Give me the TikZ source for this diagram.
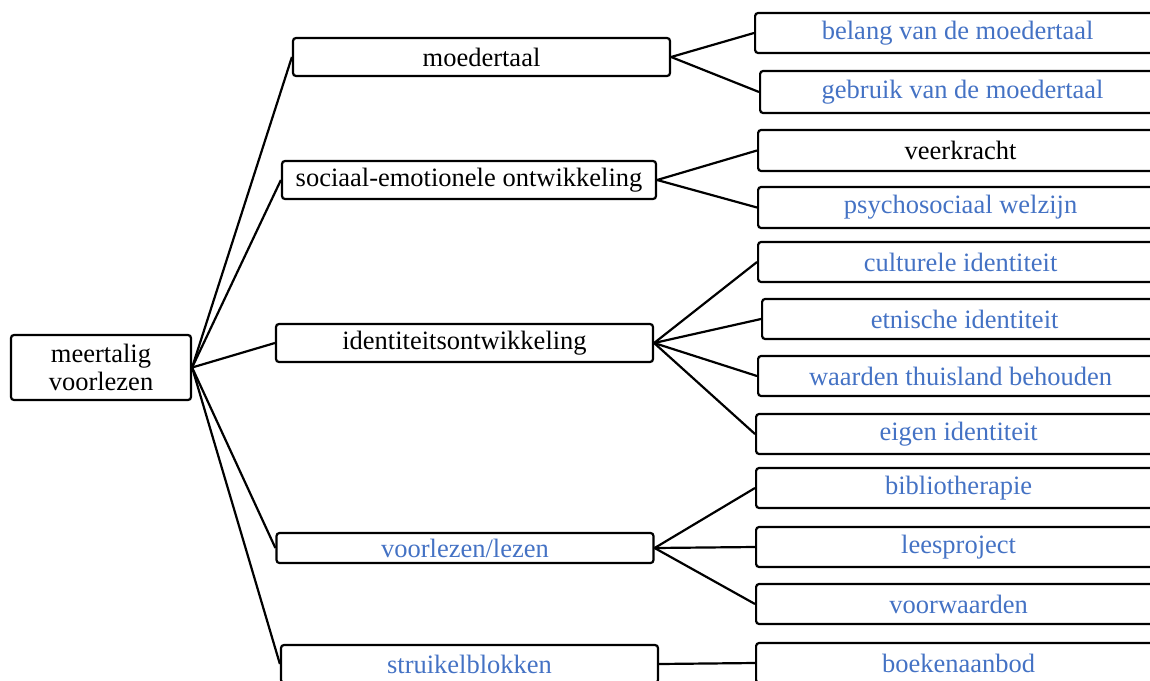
\documentclass[tikz,border=0pt]{standalone}
\usepackage{fontspec}
\setmainfont{Liberation Serif}
\definecolor{itemblue}{RGB}{68,114,196}
\tikzset{
  box/.style={draw, line width=2.2pt, rounded corners=3pt, inner sep=0pt, align=center, font=\fontsize{26.5}{27.5}\selectfont},
  topic/.style={box, minimum width=377pt, minimum height=38pt},
  leaf/.style={box, anchor=west, minimum width=405pt, minimum height=40pt, text=itemblue},
  link/.style={line width=2.2pt},
}
\begin{document}
\begin{tikzpicture}[x=1pt,y=1pt,yscale=-1,xscale=1]
    \useasboundingbox (0,0) rectangle (1150,680);
    \clip (0,0) rectangle (1150,680);

    % Root
    \node [box, minimum width=180pt, minimum height=65pt] (root) at (101,367.5) {meertalig\\voorlezen};

    % Topics
    \node [topic] (moeder) at (481.5,57) {moedertaal};
    \node [topic, minimum width=374pt] (sociaal) at (469,180) {sociaal-emotionele ontwikkeling};
    \node [topic] (ident) at (464.5,343) {identiteitsontwikkeling};
    \node [topic, minimum height=30pt, text=itemblue] (lezen) at (465,548) {voorlezen/lezen};
    \node [topic, text=itemblue] (struikel) at (469.5,664) {struikelblokken};

    % Leaves
    \node [leaf] (belang) at (754,33) {belang van de moedertaal};
    \node [leaf, minimum height=42pt] (gebruik) at (759,92) {gebruik van de moedertaal};
    \node [leaf, minimum height=41pt, text=black] (veer) at (757,150.5) {veerkracht};
    \node [leaf, minimum height=41pt] (psycho) at (757,207.5) {psychosociaal welzijn};
    \node [leaf] (cultuur) at (757,262) {culturele identiteit};
    \node [leaf] (etnisch) at (761,319) {etnische identiteit};
    \node [leaf] (waarden) at (757,376) {waarden thuisland behouden};
    \node [leaf] (eigen) at (755,434) {eigen identiteit};
    \node [leaf] (biblio) at (755,488) {bibliotherapie};
    \node [leaf] (lees) at (755,547) {leesproject};
    \node [leaf] (voorw) at (755,604) {voorwaarden};
    \node [leaf] (boeken) at (755,663) {boekenaanbod};

    % Connectors
    \draw [link] (root.east) -- (moeder.west);
    \draw [link] (root.east) -- (sociaal.west);
    \draw [link] (root.east) -- (ident.west);
    \draw [link] (root.east) -- (lezen.west);
    \draw [link] (root.east) -- (struikel.west);

    \draw [link] (moeder.east) -- (belang.west);
    \draw [link] (moeder.east) -- (gebruik.west);
    \draw [link] (sociaal.east) -- (veer.west);
    \draw [link] (sociaal.east) -- (psycho.west);
    \draw [link] (ident.east) -- (cultuur.west);
    \draw [link] (ident.east) -- (etnisch.west);
    \draw [link] (ident.east) -- (waarden.west);
    \draw [link] (ident.east) -- (eigen.west);
    \draw [link] (lezen.east) -- (biblio.west);
    \draw [link] (lezen.east) -- (lees.west);
    \draw [link] (lezen.east) -- (voorw.west);
    \draw [link] (struikel.east) -- (boeken.west);

\end{tikzpicture}
\end{document}
